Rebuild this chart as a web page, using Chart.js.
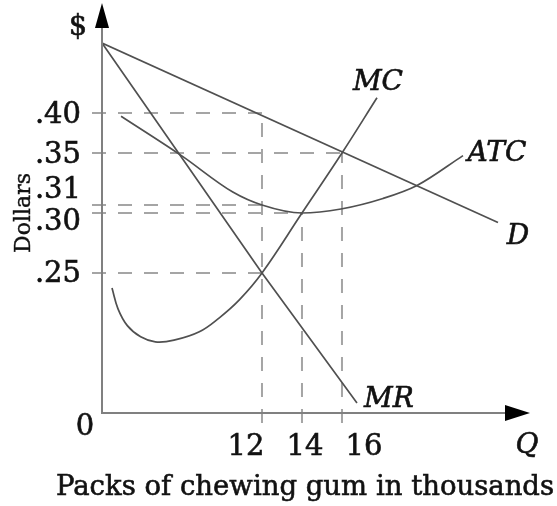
<!DOCTYPE html>
<html>
<head>
<meta charset="utf-8">
<script src="https://cdn.jsdelivr.net/npm/chart.js@4/dist/chart.umd.min.js"></script>
<style>
  html, body { margin: 0; padding: 0; background: #fff; }
  #wrap { width: 557px; height: 506px; }
</style>
</head>
<body>
<div id="wrap"><canvas id="myChart" width="557" height="506"></canvas></div>
<script>
// quantity in thousands of packs, price in dollars
const qTicks = [12, 14, 16];
const priceTicks = [0.40, 0.35, 0.31, 0.30, 0.25];
const priceLabels = ['.40', '.35', '.31', '.30', '.25'];

// how far each dashed guide runs
const hGuideToQ = [12, 16, 12, 14, 12];
const vGuideFromP = [0.40, 0.30, 0.35];

const demandQ = [0, 23.8];
const demandP = [0.4875, 0.292];

const mrQ = [0, 12, 16.75];
const mrP = [0.4875, 0.25, 0.018];

const mcQ = [0.75, 1.2, 1.9, 2.9, 4.0, 5.4, 7.3, 8.8, 10.3, 12, 14, 16, 17.75];
const mcP = [0.223, 0.186, 0.156, 0.136, 0.127, 0.130, 0.145, 0.170, 0.202, 0.25, 0.30, 0.35, 0.419];

const atcQ = [1.43, 5.96, 9.81, 12, 14, 15.95, 18.05, 19.75, 22.05];
const atcP = [0.396, 0.348, 0.320, 0.31, 0.30, 0.305, 0.315, 0.325, 0.348];

// the drawing is not to scale: the axes are piecewise linear between these values
class KinkedScale extends Chart.LinearScale {
    static id = 'kinked';
    _frac(v) {
        const k = this.options.knots;
        let i = 1;
        while (i < k.length - 1 && v > k[i][0]) i++;
        const a = k[i - 1], b = k[i];
        return a[1] + (v - a[0]) * (b[1] - a[1]) / (b[0] - a[0]);
    }
    getPixelForValue(v) {
        if (v === null || v === undefined || isNaN(v)) return NaN;
        return this.getPixelForDecimal(this._frac(v));
    }
    getValueForPixel(p) {
        const d = this.getDecimalForPixel(p);
        const k = this.options.knots;
        let i = 1;
        while (i < k.length - 1 && d > k[i][1]) i++;
        const a = k[i - 1], b = k[i];
        return a[0] + (d - a[1]) * (b[0] - a[0]) / (b[1] - a[1]);
    }
}
Chart.register(KinkedScale);

function pts(xs, ys) {
    return xs.map((x, i) => ({ x: x, y: ys[i] }));
}

const curveStyle = {
    borderColor: '#505050',
    borderWidth: 1.7,
    pointRadius: 0,
    fill: false
};

const SERIF = '"DejaVu Serif", serif';

// text drawn slightly heavier, the printed original is darker than DejaVu
function heavyText(ctx, s, x, y) {
    ctx.strokeText(s, x, y);
    ctx.fillText(s, x, y);
}

const decorations = {
    id: 'decorations',
    beforeDatasetsDraw(chart) {
        const ctx = chart.ctx;
        const xs = chart.scales.x, ys = chart.scales.y;
        const area = chart.chartArea;
        ctx.save();
        ctx.strokeStyle = '#a5a5a5';
        ctx.lineWidth = 2;
        ctx.setLineDash([14, 12]);
        priceTicks.forEach((p, i) => {
            const y = ys.getPixelForValue(p);
            ctx.beginPath();
            ctx.moveTo(area.left - 10, y);
            ctx.lineTo(xs.getPixelForValue(hGuideToQ[i]), y);
            ctx.stroke();
        });
        qTicks.forEach((q, i) => {
            const x = xs.getPixelForValue(q);
            ctx.beginPath();
            ctx.moveTo(x, area.bottom + 10);
            ctx.lineTo(x, ys.getPixelForValue(vGuideFromP[i]));
            ctx.stroke();
        });
        ctx.restore();
    },
    afterDraw(chart) {
        const ctx = chart.ctx;
        const xs = chart.scales.x, ys = chart.scales.y;
        const area = chart.chartArea;
        ctx.save();

        // axes with arrow heads
        ctx.strokeStyle = '#808080';
        ctx.lineWidth = 2;
        ctx.beginPath();
        ctx.moveTo(area.left, area.top + 20);
        ctx.lineTo(area.left, area.bottom);
        ctx.lineTo(area.right - 20, area.bottom);
        ctx.stroke();
        ctx.fillStyle = '#000';
        ctx.beginPath();
        ctx.moveTo(area.left, area.top);
        ctx.lineTo(area.left - 7, area.top + 25);
        ctx.lineTo(area.left + 7, area.top + 25);
        ctx.closePath();
        ctx.fill();
        ctx.beginPath();
        ctx.moveTo(area.right, area.bottom);
        ctx.lineTo(area.right - 25, area.bottom - 8);
        ctx.lineTo(area.right - 25, area.bottom + 8);
        ctx.closePath();
        ctx.fill();

        ctx.fillStyle = '#111';
        ctx.strokeStyle = '#111';
        ctx.lineWidth = 0.6;
        ctx.textBaseline = 'middle';

        // price tick labels (.31 and .30 pushed apart so they can be read)
        const yNudge = [2, 2, -15, 9, 1];
        ctx.font = '29px ' + SERIF;
        ctx.textAlign = 'right';
        priceTicks.forEach((p, i) => {
            heavyText(ctx, priceLabels[i], area.left - 21, ys.getPixelForValue(p) + yNudge[i]);
        });

        // quantity tick labels
        const xNudge = [-16, 3, 22];
        ctx.textAlign = 'center';
        qTicks.forEach((q, i) => {
            heavyText(ctx, String(q), xs.getPixelForValue(q) + xNudge[i], area.bottom + 34);
        });
        heavyText(ctx, '0', area.left - 17, area.bottom + 14);
        heavyText(ctx, '$', area.left - 24, area.top + 24);

        // curve names
        ctx.font = 'italic 28px ' + SERIF;
        heavyText(ctx, 'Q', area.right - 3, area.bottom + 33);
        const tag = (name, q, p, dx, dy) => {
            heavyText(ctx, name, xs.getPixelForValue(q) + dx, ys.getPixelForValue(p) + dy);
        };
        tag('MC', mcQ[mcQ.length - 1], mcP[mcP.length - 1], 1, -15);
        tag('ATC', atcQ[atcQ.length - 1], atcP[atcP.length - 1], 34, -2);
        tag('D', demandQ[demandQ.length - 1], demandP[demandP.length - 1], 20, 14);
        tag('MR', mrQ[mrQ.length - 1], mrP[mrP.length - 1], 32, -3);

        // axis titles
        ctx.font = '27.5px ' + SERIF;
        heavyText(ctx, 'Packs of chewing gum in thousands', 305, 488);
        ctx.save();
        ctx.translate(24, 213);
        ctx.rotate(-Math.PI / 2);
        ctx.font = '22px ' + SERIF;
        ctx.lineWidth = 0.4;
        heavyText(ctx, 'Dollars', 0, 0);
        ctx.restore();

        ctx.restore();
    }
};

const config = {
    type: 'line',
    data: {
        datasets: [
            Object.assign({ label: 'D', data: pts(demandQ, demandP), tension: 0 }, curveStyle),
            Object.assign({ label: 'MR', data: pts(mrQ, mrP), tension: 0 }, curveStyle),
            Object.assign({ label: 'MC', data: pts(mcQ, mcP), tension: 0.4 }, curveStyle),
            Object.assign({ label: 'ATC', data: pts(atcQ, atcP), cubicInterpolationMode: 'monotone' }, curveStyle)
        ]
    },
    options: {
        responsive: false,
        animation: false,
        layout: { padding: { left: 102, right: 27, top: 3, bottom: 93 } },
        plugins: {
            legend: { display: false },
            tooltip: { enabled: false }
        },
        scales: {
            x: {
                type: 'kinked',
                display: false,
                min: 0,
                max: 25.4,
                knots: [[0, 0], [12, 0.3738], [16, 0.5607], [25.4, 1]]
            },
            y: {
                type: 'kinked',
                display: false,
                min: 0,
                max: 0.5375,
                knots: [[0, 0], [0.25, 0.3415], [0.30, 0.4878], [0.31, 0.5073],
                        [0.35, 0.6341], [0.40, 0.7317], [0.5375, 1]]
            }
        }
    },
    plugins: [decorations]
};

new Chart(document.getElementById('myChart').getContext('2d'), config);
</script>
</body>
</html>
